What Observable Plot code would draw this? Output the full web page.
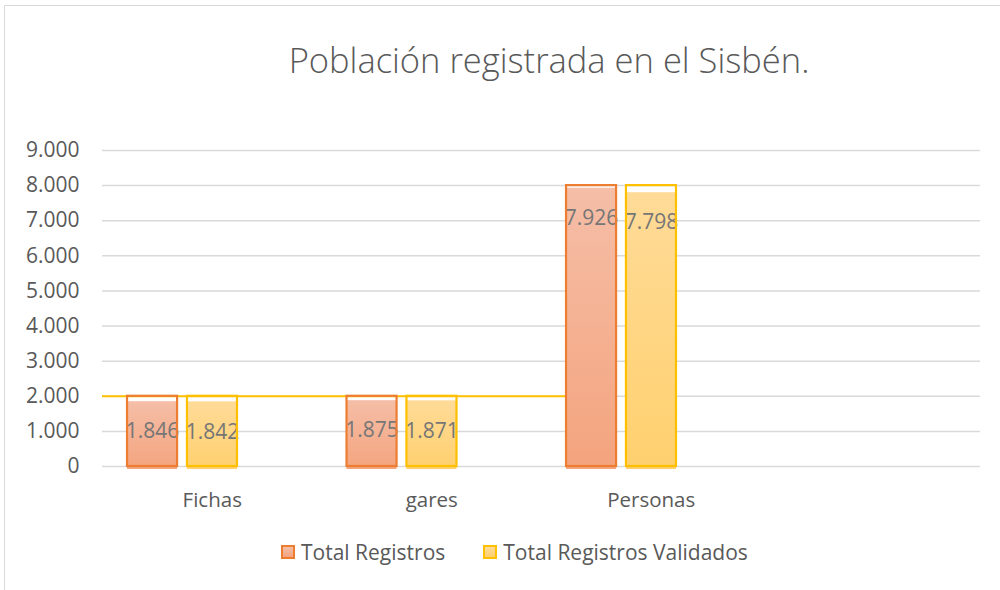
<!DOCTYPE html>
<html>
<head>
<meta charset="utf-8">
<script src="https://cdn.jsdelivr.net/npm/d3@7"></script>
<script src="https://cdn.jsdelivr.net/npm/@observablehq/plot@0.6"></script>
<style>
  html, body { margin: 0; padding: 0; background: #fff; }
  body { width: 1000px; height: 590px; position: relative; overflow: hidden; font-family: "Open Sans", "Liberation Sans", sans-serif; }
  #frame { position: absolute; left: 4px; top: 5px; width: 1000px; height: 600px; border-left: 1.5px solid #d9d9d9; border-top: 1.5px solid #d9d9d9; box-sizing: border-box; }
  #title { position: absolute; left: 0; width: 1098px; top: 36px; text-align: center; font-size: 34.5px; font-weight: 300; color: #595959; white-space: nowrap; }
  #chart { position: absolute; left: 0; top: 0; }
  #legend { position: absolute; left: 281px; top: 538px; display: flex; align-items: center; font-size: 21px; color: #595959; white-space: nowrap; }
  .item { display: flex; align-items: center; margin-right: 38px; }
  .sw { width: 10px; height: 10px; border: 2px solid; margin-right: 6px; }
</style>
</head>
<body>
<div id="frame"></div>
<div id="title">Población registrada en el Sisbén.</div>
<div id="chart"></div>
<div id="legend"></div>
<script>
// ---- data ----
const categories = ["Fichas", "gares", "Personas", ""];
const seriesNames = ["Total Registros", "Total Registros Validados"];
const totalRegistros = [1846, 1875, 7926];
const totalValidados = [1842, 1871, 7798];
const frameTops = [2000, 2000, 8000];
const refLevel = 2000;
const yTicks = [0, 1000, 2000, 3000, 4000, 5000, 6000, 7000, 8000, 9000];

// ---- styling / layout ----
const strokeColors = ["#ED7D31", "#FFC000"];
const gradIds = ["gRed", "gYel"];
const slots = [[0.114, 0.342], [0.387, 0.615]];
const fmt = d => d3.format(",")(d).replace(/,/g, ".");

const seriesValues = [totalRegistros, totalValidados];
const rows = [];
totalRegistros.forEach((_, i) => {
  seriesValues.forEach((vals, s) => {
    rows.push({
      i, s,
      cat: categories[i],
      series: seriesNames[s],
      value: vals[i],
      frame: frameTops[i],
      x1: i + slots[s][0],
      x2: i + slots[s][1],
      xc: i + (slots[s][0] + slots[s][1]) / 2
    });
  });
});

const plot = Plot.plot({
  width: 1000,
  height: 520,
  marginTop: 150,
  marginBottom: 54,
  marginLeft: 102,
  marginRight: 20,
  style: { fontFamily: "'Open Sans', 'Liberation Sans', sans-serif", fontSize: "21px", color: "#595959", background: "transparent" },
  x: { domain: [0, categories.length] },
  y: { domain: [0, 9000] },
  marks: [
    Plot.gridY(yTicks, { stroke: "#d9d9d9", strokeOpacity: 1, strokeWidth: 1.5 }),
    Plot.rect(rows, {
      x1: "x1", x2: "x2", y1: 0, y2: "value",
      fill: d => `url(#${gradIds[d.s]})`,
      insetBottom: -3
    }),
    Plot.text(rows, {
      x: "xc", y: "value", text: d => fmt(d.value),
      dy: 30, fontSize: 21, fill: "#767676"
    }),
    Plot.ruleY([refLevel], { x1: 0, x2: 2 + slots[0][0], stroke: "#FFC000", strokeWidth: 2 }),
    Plot.rect(rows, {
      x1: "x1", x2: "x2", y1: 0, y2: "frame",
      fill: "none", stroke: d => strokeColors[d.s], strokeWidth: 2.2
    }),
    Plot.axisY(yTicks, { tickSize: 0, tickPadding: 23, tickFormat: fmt, fontSize: 21, fill: "#595959", label: null }),
    Plot.axisX([0.5, 1.5, 2.5], { tickSize: 0, tickPadding: 26, tickFormat: d => categories[Math.floor(d)], fontSize: 20.5, fill: "#595959", label: null })
  ]
});

// gradients
const svg = d3.select(plot);
const defs = svg.insert("defs", ":first-child");
const gradStops = [["#F5BEA7", "#F4A47E"], ["#FFDB98", "#FFD06E"]];
gradIds.forEach((id, k) => {
  const g = defs.append("linearGradient").attr("id", id).attr("x1", 0).attr("y1", 0).attr("x2", 0).attr("y2", 1);
  g.append("stop").attr("offset", "0%").attr("stop-color", gradStops[k][0]);
  g.append("stop").attr("offset", "100%").attr("stop-color", gradStops[k][1]);
});
document.getElementById("chart").appendChild(plot);

// legend
const legend = d3.select("#legend");
seriesNames.forEach((name, k) => {
  const it = legend.append("div").attr("class", "item");
  it.append("div").attr("class", "sw")
    .style("border-color", strokeColors[k])
    .style("background", `linear-gradient(${gradStops[k][0]}, ${gradStops[k][1]})`);
  it.append("span").text(name);
});
</script>
</body>
</html>
